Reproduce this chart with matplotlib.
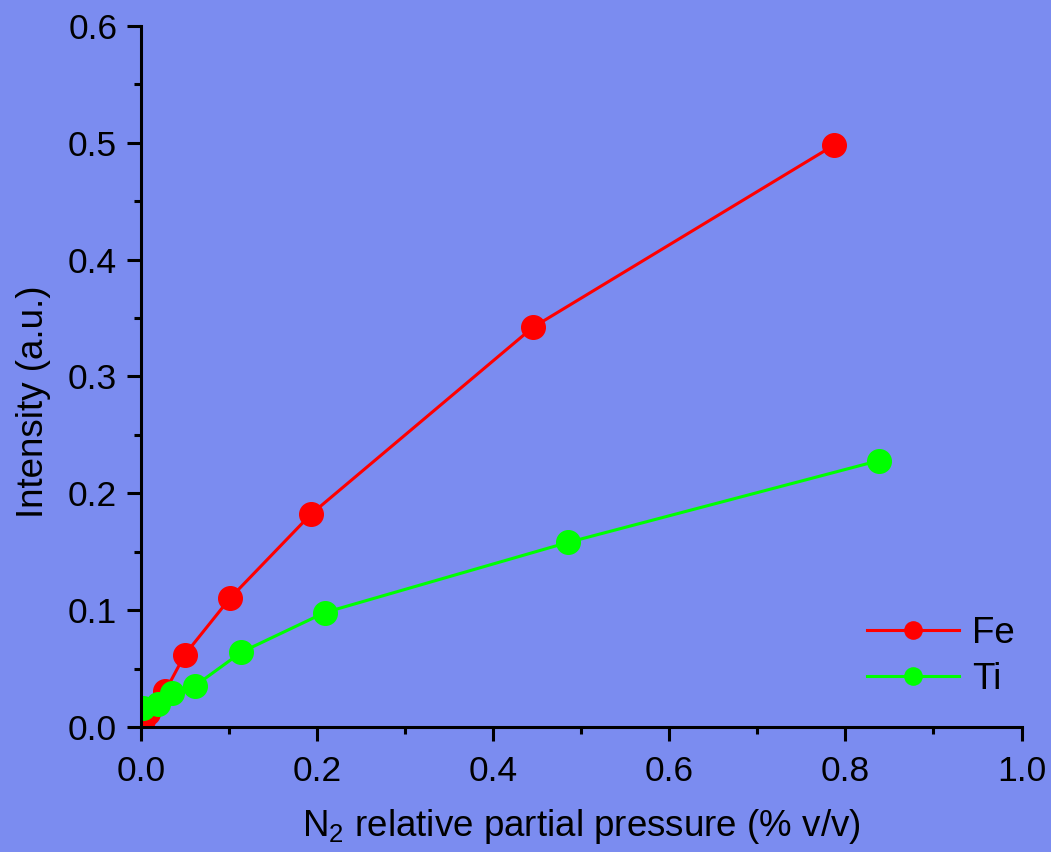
import matplotlib
matplotlib.use('Agg')
import matplotlib.pyplot as plt
from matplotlib.ticker import MultipleLocator

plt.rcParams['font.family'] = ['Liberation Sans', 'DejaVu Sans']
plt.rcParams['mathtext.default'] = 'regular'

# N2 partial pressure vs emission intensity
fe_x = [0.002, 0.008, 0.028, 0.050, 0.101, 0.193, 0.445, 0.787]
fe_y = [0.006, 0.012, 0.031, 0.062, 0.110, 0.182, 0.342, 0.498]
ti_x = [0.002, 0.019, 0.035, 0.061, 0.114, 0.209, 0.485, 0.838]
ti_y = [0.016, 0.020, 0.029, 0.035, 0.064, 0.098, 0.158, 0.228]

bg = '#7b8cf0'
fig = plt.figure(figsize=(10.51, 8.52), dpi=100, facecolor=bg)
ax = fig.add_axes([0.134, 0.1467, 0.838, 0.8228], facecolor=bg)

ax.plot(fe_x, fe_y, color='#ff0000', lw=2.2, marker='o', ms=17, mec='#ff0000',
        label='Fe')
ax.plot(ti_x, ti_y, color='#00ff00', lw=2.2, marker='o', ms=17, mec='#00ff00',
        label='Ti')

ax.set_xlim(0, 1.0)
ax.set_ylim(0, 0.6)
ax.xaxis.set_major_locator(MultipleLocator(0.2))
ax.xaxis.set_minor_locator(MultipleLocator(0.1))
ax.yaxis.set_major_locator(MultipleLocator(0.1))
ax.yaxis.set_minor_locator(MultipleLocator(0.05))
ax.xaxis.set_major_formatter(lambda v, p: '%.1f' % v)
ax.yaxis.set_major_formatter(lambda v, p: '%.1f' % v)

for s in ['top', 'right']:
    ax.spines[s].set_visible(False)
for s in ['left', 'bottom']:
    ax.spines[s].set_linewidth(2.2)
ax.tick_params(which='major', direction='out', length=10, width=2.2,
               labelsize=25.5, pad=7)
ax.tick_params(axis='x', which='major', pad=10)
ax.tick_params(which='minor', direction='out', length=5, width=2.2)

ax.set_xlabel('N$_2$ relative partial pressure (% v/v)', fontsize=26.5, labelpad=14)
ax.set_ylabel('Intensity (a.u.)', fontsize=26.5, labelpad=12, y=0.464)

leg = ax.legend(loc='lower right', bbox_to_anchor=(1.03, -0.004), frameon=False,
                fontsize=26.5, markerscale=0.73, handlelength=2.5,
                handletextpad=0.35, labelspacing=0.3)

fig.savefig('out.png', dpi=100, facecolor=bg)
